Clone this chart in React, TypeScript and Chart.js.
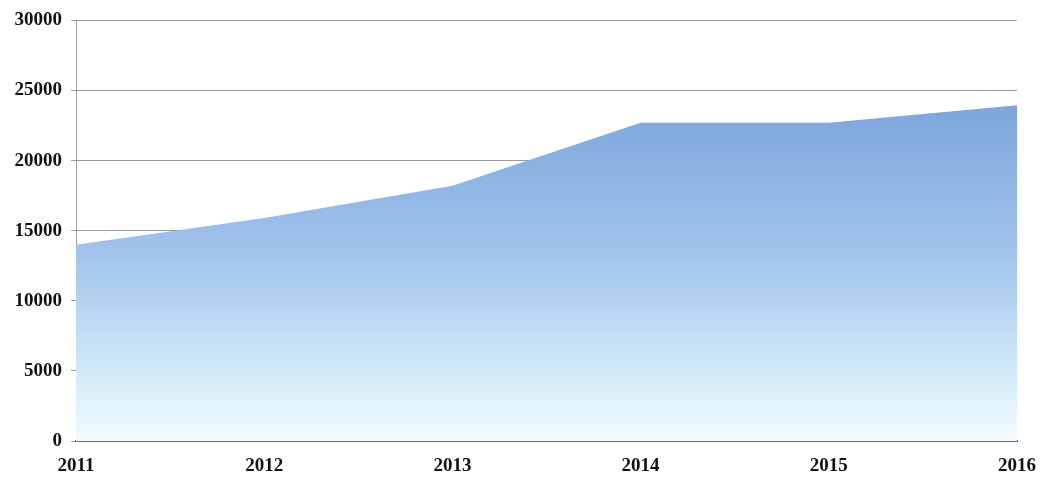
import React, { useEffect, useRef } from "react";
import { Chart, registerables } from "chart.js";

Chart.register(...registerables);

const years = ["2011", "2012", "2013", "2014", "2015", "2016"];
const values = [14000, 15900, 18200, 22700, 22700, 23950];
const yTicks = [0, 5000, 10000, 15000, 20000, 25000, 30000];

export default function App() {
  const ref = useRef<HTMLCanvasElement | null>(null);
  useEffect(() => {
    document.body.style.margin = "0";
    const canvas = ref.current!;
    const chart = new Chart(canvas, {
      type: "line",
      data: {
        labels: years,
        datasets: [
          {
            data: values,
            fill: "origin",
            borderWidth: 0,
            borderColor: "rgba(0,0,0,0)",
            pointRadius: 0,
            tension: 0,
            backgroundColor: (ctx: any) => {
              const ca = ctx.chart.chartArea;
              if (!ca) return "#9fc0ea";
              const g = ctx.chart.ctx.createLinearGradient(0, ca.top + 85, 0, ca.bottom);
              g.addColorStop(0, "#7ea6dc");
              g.addColorStop(0.45, "#a2c4ec");
              g.addColorStop(0.8, "#d2ebf8");
              g.addColorStop(1, "#f4fbff");
              return g;
            },
          },
        ],
      },
      options: {
        responsive: false,
        animation: false,
        devicePixelRatio: 1,
        layout: { padding: { top: 19, right: 27, left: 0, bottom: 0 } },
        plugins: { legend: { display: false }, tooltip: { enabled: false } },
        scales: {
          x: {
            offset: false,
            grid: { display: false },
            border: { display: true, color: "#6b6b6b", width: 2 },
            ticks: {
              autoSkip: false,
              maxRotation: 0,
              padding: 6,
              color: "#111",
              font: { family: "Liberation Serif", size: 19, weight: "bold" },
            },
            afterFit: (s: any) => {
              s.height = 38;
            },
          },
          y: {
            min: 0,
            max: 30000,
            afterBuildTicks: (s: any) => {
              s.ticks = yTicks.map((v) => ({ value: v }));
            },
            grid: { color: "#9a9a9a", lineWidth: 1, tickLength: 5 },
            border: { display: true, color: "#a0a0a0", width: 1 },
            ticks: {
              padding: 9,
              color: "#111",
              font: { family: "Liberation Serif", size: 19, weight: "bold" },
              callback: (v: any) => String(v),
            },
            afterFit: (s: any) => {
              s.width = 76;
            },
          },
        },
      },
    });
    return () => chart.destroy();
  }, []);
  return <canvas ref={ref} width={1044} height={479} style={{ display: "block", width: 1044, height: 479 }} />;
}
